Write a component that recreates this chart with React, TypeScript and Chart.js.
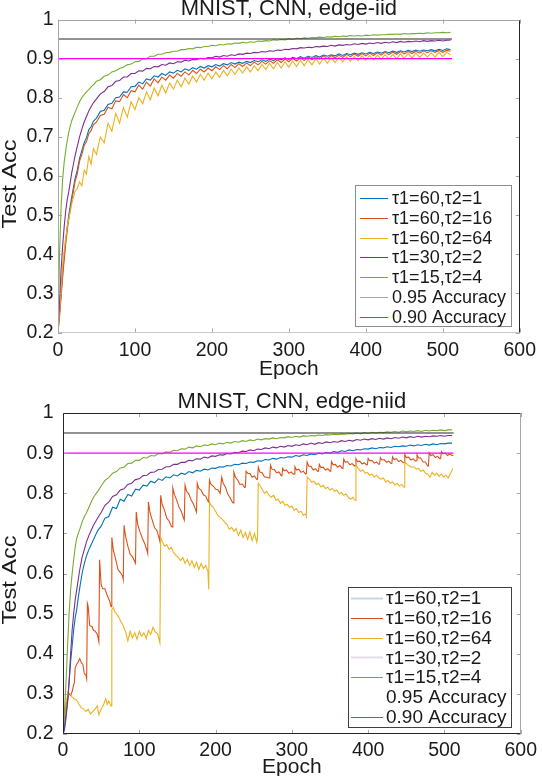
import { useEffect, useRef } from "react";
import { Chart, registerables } from "chart.js";

Chart.register(...registerables);

const FONT = "'Liberation Sans', Arial, Helvetica, sans-serif";
const TEXT = "#1a1a1a";

// ---------- axes ----------
const xTickValues = [0, 100, 200, 300, 400, 500, 600];
const yTickValues = [0.2, 0.3, 0.4, 0.5, 0.6, 0.7, 0.8, 0.9, 1];

// ---------- text ----------
const iidTitle = "MNIST, CNN, edge-iid";
const niidTitle = "MNIST, CNN, edge-niid";
const xLabel = "Epoch";
const yLabel = "Test Acc";
const seriesLabels = [
  "τ1=60,τ2=1",
  "τ1=60,τ2=16",
  "τ1=60,τ2=64",
  "τ1=30,τ2=2",
  "τ1=15,τ2=4",
  "0.95 Accuracy",
  "0.90 Accuracy",
];

// ---------- shared epoch grid for the smoother curves ----------
const smoothEpochs = [
  0, 2, 4, 6, 8, 10, 12, 14, 16, 18, 20, 22, 25, 28, 31, 34, 37, 40, 43, 46,
  50, 55, 60, 65, 70, 75, 80, 85, 90, 95,
  100, 105, 110, 115, 120, 125, 130, 135, 140, 145,
  150, 155, 160, 165, 170, 175, 180, 185, 190, 195,
  200, 205, 210, 215, 220, 225, 230, 235, 240, 245,
  250, 255, 260, 265, 270, 275, 280, 285, 290, 295,
  300, 305, 310, 315, 320, 325, 330, 335, 340, 345,
  350, 355, 360, 365, 370, 375, 380, 385, 390, 395,
  400, 405, 410, 415, 420, 425, 430, 435, 440, 445,
  450, 455, 460, 465, 470, 475, 480, 485, 490, 495,
  500, 505, 510,
];

// ---------- edge-iid panel ----------
const iidBlue = [
  0.2, 0.25, 0.3, 0.35, 0.395, 0.435, 0.47, 0.5, 0.525, 0.548, 0.57, 0.592, 0.615, 0.645, 0.665, 0.685, 0.698, 0.718, 0.726, 0.74,
  0.748, 0.765, 0.768, 0.783, 0.786, 0.8, 0.802, 0.815, 0.814, 0.828,
  0.829, 0.84, 0.836, 0.848, 0.845, 0.856, 0.853, 0.862, 0.857, 0.866,
  0.863, 0.87, 0.866, 0.874, 0.87, 0.877, 0.873, 0.88, 0.876, 0.882,
  0.879, 0.885, 0.881, 0.887, 0.884, 0.89, 0.886, 0.891, 0.888, 0.893,
  0.89, 0.895, 0.892, 0.897, 0.893, 0.899, 0.895, 0.9, 0.897, 0.902,
  0.898, 0.903, 0.9, 0.905, 0.901, 0.906, 0.903, 0.908, 0.904, 0.909,
  0.906, 0.91, 0.907, 0.912, 0.908, 0.913, 0.91, 0.914, 0.911, 0.915,
  0.912, 0.916, 0.913, 0.917, 0.914, 0.918, 0.915, 0.919, 0.916, 0.92,
  0.917, 0.921, 0.918, 0.922, 0.919, 0.922, 0.92, 0.923, 0.92, 0.924,
  0.921, 0.925, 0.923,
];
const iidOrange = [
  0.2, 0.24, 0.29, 0.34, 0.385, 0.425, 0.46, 0.49, 0.515, 0.54, 0.56, 0.585, 0.605, 0.638, 0.655, 0.678, 0.688, 0.708, 0.716, 0.731,
  0.738, 0.755, 0.758, 0.776, 0.772, 0.792, 0.79, 0.808, 0.8, 0.818,
  0.815, 0.832, 0.822, 0.84, 0.83, 0.848, 0.838, 0.853, 0.845, 0.858,
  0.85, 0.862, 0.855, 0.866, 0.858, 0.87, 0.862, 0.873, 0.866, 0.876,
  0.869, 0.879, 0.872, 0.882, 0.874, 0.885, 0.877, 0.887, 0.88, 0.889,
  0.882, 0.891, 0.884, 0.893, 0.886, 0.895, 0.888, 0.897, 0.89, 0.899,
  0.892, 0.901, 0.894, 0.902, 0.895, 0.904, 0.897, 0.905, 0.899, 0.907,
  0.9, 0.908, 0.902, 0.909, 0.903, 0.911, 0.905, 0.912, 0.906, 0.913,
  0.907, 0.914, 0.908, 0.915, 0.909, 0.916, 0.91, 0.917, 0.911, 0.918,
  0.912, 0.918, 0.913, 0.919, 0.914, 0.92, 0.915, 0.92, 0.916, 0.921,
  0.916, 0.921, 0.919,
];
const iidYellow = [
  0.2, 0.25, 0.31, 0.37, 0.41, 0.44, 0.47, 0.49, 0.51, 0.53, 0.545, 0.56, 0.568, 0.585, 0.575, 0.615, 0.605, 0.65, 0.63, 0.67,
  0.655, 0.7, 0.685, 0.735, 0.715, 0.76, 0.735, 0.775, 0.75, 0.79,
  0.77, 0.8, 0.785, 0.815, 0.795, 0.825, 0.805, 0.832, 0.812, 0.838,
  0.822, 0.845, 0.828, 0.85, 0.835, 0.855, 0.84, 0.86, 0.845, 0.863,
  0.848, 0.866, 0.852, 0.87, 0.856, 0.873, 0.86, 0.876, 0.863, 0.879,
  0.866, 0.882, 0.869, 0.885, 0.872, 0.888, 0.874, 0.89, 0.876, 0.892,
  0.878, 0.894, 0.88, 0.896, 0.882, 0.898, 0.884, 0.9, 0.886, 0.901,
  0.888, 0.903, 0.89, 0.904, 0.892, 0.905, 0.893, 0.906, 0.895, 0.907,
  0.896, 0.908, 0.897, 0.909, 0.898, 0.91, 0.899, 0.911, 0.9, 0.912,
  0.901, 0.913, 0.902, 0.914, 0.903, 0.914, 0.904, 0.915, 0.904, 0.916,
  0.905, 0.916, 0.91,
];
const iidPurple = [
  0.2, 0.28, 0.36, 0.42, 0.47, 0.51, 0.54, 0.56, 0.585, 0.61, 0.63, 0.65, 0.675, 0.7, 0.72, 0.738, 0.752, 0.766, 0.777, 0.787,
  0.797, 0.81, 0.816, 0.828, 0.831, 0.842, 0.844, 0.853, 0.853, 0.862,
  0.862, 0.869, 0.868, 0.875, 0.874, 0.88, 0.879, 0.885, 0.883, 0.889,
  0.887, 0.892, 0.891, 0.896, 0.894, 0.898, 0.897, 0.901, 0.899, 0.903,
  0.902, 0.906, 0.904, 0.908, 0.906, 0.91, 0.908, 0.912, 0.911, 0.914,
  0.913, 0.916, 0.915, 0.918, 0.917, 0.92, 0.919, 0.922, 0.921, 0.924,
  0.923, 0.926, 0.925, 0.928, 0.927, 0.929, 0.928, 0.931, 0.93, 0.932,
  0.931, 0.934, 0.932, 0.935, 0.934, 0.936, 0.935, 0.938, 0.936, 0.939,
  0.937, 0.94, 0.938, 0.941, 0.939, 0.942, 0.94, 0.943, 0.941, 0.944,
  0.942, 0.944, 0.943, 0.945, 0.943, 0.946, 0.944, 0.946, 0.945, 0.947,
  0.945, 0.947, 0.947,
];
const iidGreen = [
  0.2, 0.4, 0.52, 0.59, 0.635, 0.665, 0.69, 0.712, 0.728, 0.742, 0.752, 0.762, 0.776, 0.79, 0.8, 0.808, 0.815, 0.821, 0.828, 0.833,
  0.842, 0.846, 0.855, 0.858, 0.866, 0.869, 0.875, 0.878, 0.884, 0.886,
  0.892, 0.893, 0.899, 0.9, 0.906, 0.906, 0.911, 0.911, 0.915, 0.916,
  0.919, 0.919, 0.923, 0.923, 0.926, 0.925, 0.929, 0.928, 0.931, 0.931,
  0.934, 0.933, 0.936, 0.935, 0.938, 0.937, 0.94, 0.939, 0.942, 0.94,
  0.943, 0.942, 0.945, 0.944, 0.946, 0.945, 0.948, 0.947, 0.949, 0.948,
  0.951, 0.949, 0.952, 0.951, 0.953, 0.952, 0.954, 0.953, 0.955, 0.954,
  0.956, 0.955, 0.957, 0.956, 0.958, 0.957, 0.959, 0.958, 0.959, 0.958,
  0.96, 0.959, 0.961, 0.96, 0.961, 0.961, 0.962, 0.962, 0.963, 0.962,
  0.964, 0.963, 0.964, 0.964, 0.965, 0.964, 0.966, 0.965, 0.966, 0.966,
  0.967, 0.966, 0.967,
];

// ---------- edge-niid panel ----------
const niidBlue = [
  0.2, 0.21, 0.24, 0.28, 0.33, 0.38, 0.42, 0.46, 0.49, 0.51, 0.54, 0.565, 0.6, 0.625, 0.645, 0.66, 0.672, 0.685, 0.697, 0.708,
  0.718, 0.738, 0.742, 0.765, 0.762, 0.785, 0.78, 0.797, 0.793, 0.81,
  0.808, 0.82, 0.818, 0.83, 0.826, 0.836, 0.832, 0.841, 0.838, 0.846,
  0.843, 0.85, 0.847, 0.854, 0.851, 0.857, 0.855, 0.86, 0.858, 0.863,
  0.862, 0.866, 0.865, 0.869, 0.868, 0.872, 0.871, 0.875, 0.874, 0.878,
  0.877, 0.881, 0.88, 0.884, 0.883, 0.887, 0.885, 0.889, 0.888, 0.891,
  0.89, 0.894, 0.892, 0.896, 0.894, 0.898, 0.896, 0.9, 0.898, 0.902,
  0.9, 0.904, 0.902, 0.906, 0.904, 0.908, 0.906, 0.909, 0.908, 0.911,
  0.91, 0.913, 0.911, 0.914, 0.913, 0.916, 0.914, 0.917, 0.916, 0.918,
  0.917, 0.92, 0.918, 0.921, 0.919, 0.922, 0.92, 0.923, 0.921, 0.924,
  0.923, 0.925, 0.925,
];
const niidPurple = [
  0.2, 0.22, 0.25, 0.28, 0.33, 0.4, 0.46, 0.5, 0.535, 0.56, 0.585, 0.61, 0.64, 0.66, 0.68, 0.695, 0.708, 0.72, 0.73, 0.74,
  0.752, 0.77, 0.778, 0.792, 0.796, 0.808, 0.811, 0.822, 0.825, 0.834,
  0.836, 0.844, 0.845, 0.852, 0.853, 0.859, 0.86, 0.866, 0.866, 0.872,
  0.872, 0.877, 0.877, 0.882, 0.881, 0.886, 0.885, 0.89, 0.888, 0.893,
  0.892, 0.896, 0.895, 0.899, 0.898, 0.902, 0.901, 0.905, 0.904, 0.908,
  0.906, 0.91, 0.909, 0.913, 0.911, 0.915, 0.913, 0.917, 0.915, 0.919,
  0.917, 0.921, 0.919, 0.923, 0.921, 0.925, 0.922, 0.926, 0.924, 0.928,
  0.926, 0.929, 0.927, 0.931, 0.929, 0.932, 0.93, 0.934, 0.932, 0.935,
  0.933, 0.936, 0.934, 0.937, 0.935, 0.938, 0.936, 0.939, 0.937, 0.94,
  0.938, 0.941, 0.939, 0.942, 0.94, 0.942, 0.941, 0.943, 0.942, 0.944,
  0.942, 0.944, 0.944,
];
const niidGreen = [
  0.2, 0.26, 0.33, 0.42, 0.5, 0.56, 0.6, 0.635, 0.665, 0.688, 0.7, 0.71, 0.728, 0.742, 0.752, 0.765, 0.778, 0.79, 0.798, 0.806,
  0.818, 0.832, 0.839, 0.85, 0.854, 0.863, 0.865, 0.874, 0.875, 0.882,
  0.882, 0.889, 0.888, 0.894, 0.893, 0.899, 0.898, 0.903, 0.902, 0.907,
  0.906, 0.911, 0.91, 0.915, 0.913, 0.918, 0.916, 0.92, 0.919, 0.923,
  0.921, 0.925, 0.923, 0.927, 0.925, 0.929, 0.927, 0.931, 0.929, 0.933,
  0.931, 0.935, 0.933, 0.936, 0.935, 0.938, 0.936, 0.939, 0.938, 0.941,
  0.939, 0.942, 0.94, 0.943, 0.942, 0.944, 0.943, 0.945, 0.944, 0.946,
  0.945, 0.947, 0.946, 0.948, 0.947, 0.949, 0.948, 0.95, 0.948, 0.951,
  0.949, 0.952, 0.95, 0.952, 0.951, 0.953, 0.952, 0.954, 0.952, 0.955,
  0.953, 0.955, 0.954, 0.956, 0.954, 0.957, 0.955, 0.957, 0.956, 0.958,
  0.956, 0.958, 0.958,
];
// [epoch, accuracy] pairs (saw-tooth: cloud aggregation every 16 epochs)
const niidOrange = [
  [0, 0.2], [2, 0.245], [4, 0.272], [6, 0.29], [8, 0.3], [10, 0.296], [12, 0.306], [15, 0.33],
  [16, 0.365], [18, 0.374], [20, 0.38], [22, 0.388], [24, 0.378], [26, 0.374], [28, 0.35], [30, 0.347], [31, 0.338],
  [32, 0.525], [33, 0.518], [35, 0.47], [38, 0.468], [40, 0.458], [42, 0.457], [45, 0.448], [47, 0.43],
  [48, 0.634], [50, 0.572], [52, 0.562], [55, 0.562], [58, 0.545], [61, 0.532], [63, 0.517],
  [64, 0.69], [66, 0.658], [69, 0.636], [72, 0.61], [75, 0.603], [78, 0.594], [79, 0.585],
  [80, 0.72], [82, 0.693], [85, 0.668], [88, 0.648], [91, 0.642], [94, 0.63], [95, 0.626],
  [96, 0.753], [98, 0.722], [101, 0.703], [104, 0.688], [107, 0.675], [110, 0.658], [111, 0.65],
  [112, 0.778], [114, 0.752], [117, 0.733], [120, 0.714], [123, 0.708], [126, 0.688], [127, 0.68],
  [128, 0.795], [130, 0.772], [133, 0.758], [136, 0.738], [139, 0.731], [142, 0.718], [143, 0.716],
  [144, 0.813], [146, 0.797], [149, 0.783], [152, 0.766], [155, 0.755], [158, 0.738], [159, 0.733],
  [160, 0.82], [162, 0.805], [165, 0.798], [168, 0.783], [171, 0.773], [174, 0.758], [175, 0.753],
  [176, 0.825], [178, 0.812], [181, 0.808], [184, 0.796], [187, 0.793], [190, 0.78], [191, 0.778],
  [192, 0.833], [194, 0.822], [197, 0.818], [200, 0.81], [203, 0.809], [206, 0.8], [207, 0.8],
  [208, 0.84], [210, 0.825], [213, 0.815], [216, 0.798], [219, 0.789], [222, 0.778], [223, 0.776],
  [224, 0.853], [226, 0.84], [229, 0.833], [232, 0.822], [235, 0.823], [238, 0.814], [239, 0.815],
  [240, 0.855], [242, 0.85], [245, 0.849], [248, 0.84], [251, 0.843], [254, 0.834], [255, 0.835],
  [256, 0.865], [258, 0.853], [261, 0.851], [264, 0.841], [267, 0.84], [270, 0.838], [271, 0.838],
  [272, 0.87], [274, 0.86], [277, 0.859], [280, 0.851], [283, 0.853], [286, 0.844], [287, 0.845],
  [288, 0.862], [290, 0.856], [293, 0.858], [296, 0.85], [299, 0.853], [302, 0.847], [303, 0.848],
  [304, 0.866], [306, 0.858], [309, 0.86], [312, 0.852], [315, 0.855], [318, 0.848], [319, 0.849],
  [320, 0.878], [322, 0.868], [325, 0.867], [328, 0.858], [331, 0.861], [334, 0.854], [335, 0.855],
  [336, 0.872], [338, 0.864], [341, 0.865], [344, 0.858], [347, 0.861], [350, 0.855], [351, 0.856],
  [352, 0.879], [354, 0.871], [357, 0.872], [360, 0.865], [363, 0.869], [366, 0.862], [367, 0.863],
  [368, 0.885], [370, 0.877], [373, 0.879], [376, 0.871], [379, 0.874], [382, 0.868], [383, 0.869],
  [384, 0.886], [386, 0.879], [389, 0.88], [392, 0.873], [395, 0.876], [398, 0.87], [399, 0.871],
  [400, 0.887], [402, 0.881], [405, 0.882], [408, 0.875], [411, 0.878], [414, 0.872], [415, 0.873],
  [416, 0.889], [418, 0.883], [421, 0.884], [424, 0.877], [427, 0.88], [430, 0.874], [431, 0.875],
  [432, 0.891], [434, 0.884], [437, 0.886], [440, 0.879], [443, 0.882], [446, 0.876], [447, 0.877],
  [448, 0.897], [450, 0.889], [453, 0.89], [456, 0.883], [459, 0.886], [462, 0.88], [463, 0.881],
  [464, 0.896], [466, 0.888], [469, 0.888], [472, 0.878], [475, 0.878], [478, 0.868], [479, 0.868],
  [480, 0.901], [482, 0.894], [485, 0.896], [488, 0.889], [491, 0.892], [494, 0.886], [495, 0.887],
  [496, 0.904], [498, 0.898], [501, 0.9], [504, 0.894], [507, 0.898], [510, 0.894], [511, 0.895],
];
// [epoch, accuracy] pairs (cloud aggregation every 64 epochs)
const niidYellow = [
  [0, 0.2], [2, 0.25], [4, 0.28], [6, 0.295], [8, 0.302], [10, 0.298], [12, 0.292], [15, 0.288], [18, 0.284], [21, 0.274], [24, 0.265], [27, 0.262], [30, 0.256], [33, 0.262], [36, 0.25], [39, 0.256], [42, 0.262], [45, 0.27], [47, 0.248], [50, 0.262], [53, 0.272], [56, 0.288], [58, 0.274], [60, 0.282], [63, 0.27],
  [64, 0.51], [66, 0.515], [68, 0.504], [70, 0.5], [73, 0.492], [76, 0.48], [79, 0.47], [82, 0.455], [85, 0.432], [88, 0.456], [91, 0.44], [94, 0.452], [97, 0.436], [100, 0.456], [103, 0.444], [106, 0.452], [109, 0.438], [112, 0.458], [115, 0.448], [118, 0.466], [121, 0.454], [124, 0.45], [127, 0.427],
  [128, 0.69], [130, 0.68], [133, 0.668], [136, 0.672], [139, 0.66], [142, 0.665], [145, 0.652], [148, 0.645], [151, 0.64], [154, 0.632], [157, 0.64], [160, 0.625], [163, 0.635], [166, 0.62], [169, 0.632], [172, 0.615], [175, 0.628], [178, 0.61], [181, 0.625], [184, 0.612], [187, 0.62], [190, 0.605], [191, 0.56],
  [192, 0.778], [194, 0.77], [197, 0.765], [200, 0.755], [203, 0.745], [206, 0.74], [209, 0.735], [212, 0.728], [215, 0.722], [218, 0.71], [221, 0.715], [224, 0.705], [227, 0.712], [230, 0.695], [233, 0.708], [236, 0.69], [239, 0.702], [242, 0.685], [245, 0.704], [248, 0.682], [251, 0.7], [254, 0.678], [255, 0.69],
  [256, 0.825], [258, 0.82], [261, 0.81], [264, 0.8], [267, 0.805], [270, 0.795], [273, 0.79], [276, 0.795], [279, 0.783], [282, 0.785], [285, 0.775], [288, 0.78], [291, 0.77], [294, 0.772], [297, 0.765], [300, 0.768], [303, 0.758], [306, 0.762], [309, 0.752], [312, 0.755], [315, 0.745], [318, 0.748], [319, 0.742],
  [320, 0.84], [323, 0.835], [326, 0.828], [329, 0.83], [332, 0.822], [335, 0.825], [338, 0.816], [341, 0.82], [344, 0.812], [347, 0.815], [350, 0.808], [353, 0.812], [356, 0.805], [359, 0.808], [362, 0.798], [365, 0.802], [368, 0.795], [371, 0.798], [374, 0.79], [377, 0.785], [380, 0.79], [383, 0.782],
  [384, 0.87], [387, 0.862], [390, 0.855], [393, 0.858], [396, 0.85], [399, 0.852], [402, 0.845], [405, 0.848], [408, 0.84], [411, 0.845], [414, 0.838], [417, 0.835], [420, 0.838], [423, 0.828], [426, 0.832], [429, 0.825], [432, 0.828], [435, 0.82], [438, 0.825], [441, 0.818], [444, 0.822], [447, 0.815],
  [448, 0.878], [451, 0.872], [454, 0.868], [457, 0.865], [460, 0.866], [463, 0.86], [466, 0.862], [469, 0.855], [472, 0.858], [475, 0.85], [478, 0.848], [481, 0.84], [484, 0.852], [487, 0.845], [490, 0.85], [493, 0.842], [496, 0.848], [499, 0.84], [502, 0.845], [505, 0.838], [508, 0.85], [511, 0.862],
];

// ---------- reference accuracy lines ----------
const refEpochs = [0, 512];
const acc95 = [0.95, 0.95];
const acc90 = [0.9, 0.9];

// ---------- colours ----------
const lineColors = ["#0072BD", "#D95319", "#EDB120", "#7E2F8E", "#77AC30", "#262626", "#FF00FF"];
const iidLegendColors = ["#0072BD", "#D95319", "#EDB120", "#7E2F8E", "#77AC30", "#a6a6a6", "#FF00FF"];
const niidLegendColors = ["#c4d8ec", "#D95319", "#EDB120", "#e2dde8", "#77AC30", "", "#FF00FF"];
const iidLegendWidths = [1, 1, 1, 1, 1, 1, 1];
const niidLegendWidths = [2, 1, 1, 2, 1, 1, 1];

const onGrid = (vals: number[]) => smoothEpochs.map((e, k) => ({ x: e, y: vals[k] }));
const fromPairs = (pairs: number[][]) => pairs.map((p) => ({ x: p[0], y: p[1] }));
const refLine = (vals: number[]) => refEpochs.map((e, k) => ({ x: e, y: vals[k] }));

// ---------- plugins ----------
const titlePlugin = {
  id: "panelTitle",
  afterDraw(chart: any, _a: any, o: any) {
    const { ctx, chartArea } = chart;
    ctx.save();
    ctx.font = `${o.size}px ${FONT}`;
    ctx.fillStyle = TEXT;
    ctx.textAlign = "center";
    ctx.textBaseline = "alphabetic";
    ctx.fillText(o.text, (chartArea.left + chartArea.right) / 2, chartArea.top - o.gap);
    // rotated y-axis label
    ctx.save();
    ctx.translate(o.yLabelBaselineX, (chartArea.top + chartArea.bottom) / 2 + o.yLabelShift);
    ctx.rotate(-Math.PI / 2);
    ctx.scale(o.yLabelStretch, 1);
    ctx.font = `${o.yLabelSize}px ${FONT}`;
    ctx.fillText(o.yLabel, 0, 0);
    ctx.restore();
    ctx.restore();
  },
};

const framePlugin = {
  id: "matlabFrame",
  afterDatasetsDraw(chart: any, _a: any, o: any) {
    const { ctx, chartArea } = chart;
    const { left, right, top, bottom } = chartArea;
    const xs = chart.scales.x;
    const ys = chart.scales.y;
    ctx.save();
    ctx.lineWidth = 1;
    ctx.strokeStyle = o.tickColor;
    ctx.beginPath();
    for (const t of xs.ticks) {
      const px = Math.round(xs.getPixelForValue(t.value)) + 0.5;
      ctx.moveTo(px, bottom);
      ctx.lineTo(px, bottom - o.tickLen);
      ctx.moveTo(px, top);
      ctx.lineTo(px, top + o.tickLen);
    }
    for (const t of ys.ticks) {
      const py = Math.round(ys.getPixelForValue(t.value)) + 0.5;
      ctx.moveTo(left, py);
      ctx.lineTo(left + o.tickLen, py);
      ctx.moveTo(right, py);
      ctx.lineTo(right - o.tickLen, py);
    }
    ctx.stroke();
    const L = Math.round(left) + 0.5;
    const R = Math.round(right) - 0.5;
    const T = Math.round(top) + 0.5;
    const B = Math.round(bottom) - 0.5;
    const side = (c: string, x1: number, y1: number, x2: number, y2: number) => {
      ctx.strokeStyle = c;
      ctx.beginPath();
      ctx.moveTo(x1, y1);
      ctx.lineTo(x2, y2);
      ctx.stroke();
    };
    side(o.topColor, L, T, R, T);
    side(o.bottomColor, L, B, R, B);
    side(o.leftColor, L, T, L, B);
    side(o.rightColor, R, T, R, B);
    ctx.restore();
  },
};

const legendPlugin = {
  id: "boxLegend",
  afterDraw(chart: any, _a: any, o: any) {
    const { ctx, chartArea } = chart;
    const x0 = Math.round(chartArea.right - o.rightGap - o.width);
    const y0 = Math.round(chartArea.bottom - o.bottomGap - o.height);
    ctx.save();
    ctx.fillStyle = "#ffffff";
    ctx.fillRect(x0, y0, o.width, o.height);
    ctx.lineWidth = 1;
    ctx.strokeStyle = o.borderColor;
    ctx.strokeRect(x0 + 0.5, y0 + 0.5, o.width, o.height);
    ctx.font = `${o.fontSize}px ${FONT}`;
    ctx.textAlign = "left";
    ctx.textBaseline = "middle";
    const raw = chart.config.data.datasets;
    for (let i = 0; i < raw.length; i++) {
      const ds = raw[i];
      const cy = y0 + o.firstRow + i * o.rowStep;
      const col = ds.legendColor;
      if (col) {
        ctx.strokeStyle = col;
        ctx.lineWidth = ds.legendWidth || 1;
        ctx.beginPath();
        ctx.moveTo(x0 + o.sampleStart, Math.round(cy) + 0.5);
        ctx.lineTo(x0 + o.sampleEnd, Math.round(cy) + 0.5);
        ctx.stroke();
      }
      ctx.fillStyle = TEXT;
      ctx.fillText(String(ds.label), x0 + o.textStart, cy + 1);
    }
    ctx.restore();
  },
};

function buildConfig(p: any) {
  const n = p.series.length;
  const datasets = p.series.map((data: any, i: number) => ({
    label: seriesLabels[i],
    data,
    legendColor: p.legendColors[i],
    legendWidth: p.legendWidths[i],
    borderColor: lineColors[i],
    backgroundColor: lineColors[i],
    borderWidth: 1.1,
    pointRadius: 0,
    pointHoverRadius: 0,
    fill: false,
    tension: 0,
    order: n - i,
  }));
  const tickFont = { family: FONT, size: 19.5, lineHeight: 1.2 };
  const labelFont = { family: FONT, size: 21, lineHeight: 1 };
  return {
    type: "line",
    data: { datasets },
    options: {
      responsive: false,
      animation: false,
      events: [],
      layout: { padding: { left: 0, top: p.padTop, right: p.padRight, bottom: 0 } },
      plugins: {
        legend: { display: false },
        tooltip: { enabled: false },
        title: { display: false },
        colors: { enabled: false },
        panelTitle: {
          text: p.title,
          size: 22,
          gap: 5,
          yLabel: yLabel,
          yLabelSize: 21,
          yLabelStretch: 1.12,
          yLabelBaselineX: 15.5,
          yLabelShift: p.yLabelShift,
        },
        matlabFrame: p.frame,
        boxLegend: p.legend,
      },
      scales: {
        x: {
          type: "linear",
          min: 0,
          max: 600,
          afterBuildTicks: (s: any) => {
            s.ticks = xTickValues.map((v) => ({ value: v }));
          },
          afterFit: (s: any) => {
            s.height = p.xAxisHeight;
          },
          grid: { display: false, drawTicks: false },
          border: { display: false },
          ticks: {
            font: tickFont,
            color: TEXT,
            padding: p.xTickPad,
            maxRotation: 0,
            autoSkip: false,
            callback: (v: any) => String(v),
          },
          title: {
            display: true,
            text: xLabel,
            color: TEXT,
            font: labelFont,
            padding: { top: 0, bottom: p.xTitlePad },
          },
        },
        y: {
          type: "linear",
          min: 0.2,
          max: 1,
          afterBuildTicks: (s: any) => {
            s.ticks = yTickValues.map((v) => ({ value: v }));
          },
          afterFit: (s: any) => {
            s.width = p.yAxisWidth;
          },
          grid: { display: false, drawTicks: false },
          border: { display: false },
          ticks: {
            font: tickFont,
            color: TEXT,
            padding: p.yTickPad,
            autoSkip: false,
            callback: (v: any) => {
              const num = Number(v);
              return Math.abs(num - 1) < 1e-9 ? "1" : num.toFixed(1);
            },
          },
          title: { display: false },
        },
      },
    },
    plugins: [titlePlugin, framePlugin, legendPlugin],
  };
}

const iidPanel = {
  title: iidTitle,
  series: [
    onGrid(iidBlue),
    onGrid(iidOrange),
    onGrid(iidYellow),
    onGrid(iidPurple),
    onGrid(iidGreen),
    refLine(acc95),
    refLine(acc90),
  ],
  legendColors: iidLegendColors,
  legendWidths: iidLegendWidths,
  padTop: 19.5,
  padRight: 15.5,
  xAxisHeight: 55.5,
  yAxisWidth: 58,
  xTickPad: 6,
  yTickPad: 4.5,
  xTitlePad: 8,
  yLabelShift: 8,
  frame: {
    tickColor: "#a6a6a6",
    tickLen: 4,
    topColor: "#a6a6a6",
    bottomColor: "#c8c8c8",
    leftColor: "#a6a6a6",
    rightColor: "#262626",
  },
  legend: {
    width: 156,
    height: 141,
    rightGap: 8.5,
    bottomGap: 6.5,
    firstRow: 13,
    rowStep: 19.8,
    sampleStart: 5,
    sampleEnd: 33,
    textStart: 37,
    fontSize: 18,
    borderColor: "#8c8c8c",
  },
};

const niidPanel = {
  title: niidTitle,
  series: [
    onGrid(niidBlue),
    fromPairs(niidOrange),
    fromPairs(niidYellow),
    onGrid(niidPurple),
    onGrid(niidGreen),
    refLine(acc95),
    refLine(acc90),
  ],
  legendColors: niidLegendColors,
  legendWidths: niidLegendWidths,
  padTop: 25,
  padRight: 17,
  xAxisHeight: 42,
  yAxisWidth: 63,
  xTickPad: 5,
  yTickPad: 9.5,
  xTitlePad: -2,
  yLabelShift: 6.5,
  frame: {
    tickColor: "#a6a6a6",
    tickLen: 4,
    topColor: "#262626",
    bottomColor: "#262626",
    leftColor: "#262626",
    rightColor: "#a6a6a6",
  },
  legend: {
    width: 163,
    height: 140,
    rightGap: 10,
    bottomGap: 7,
    firstRow: 11,
    rowStep: 19.8,
    sampleStart: 3,
    sampleEnd: 35,
    textStart: 38,
    fontSize: 19,
    borderColor: "#404040",
  },
};

function Panel({ spec }: { spec: any }) {
  const ref = useRef<HTMLCanvasElement>(null);
  useEffect(() => {
    const chart = new Chart(ref.current as HTMLCanvasElement, buildConfig(spec) as any);
    return () => chart.destroy();
  }, [spec]);
  return (
    <canvas
      ref={ref}
      width={542}
      height={388}
      style={{ display: "block", width: 542, height: 388 }}
    />
  );
}

export default function App() {
  return (
    <div
      style={{
        position: "absolute",
        left: 0,
        top: 0,
        width: 542,
        height: 776,
        background: "#ffffff",
        overflow: "hidden",
      }}
    >
      <Panel spec={iidPanel} />
      <Panel spec={niidPanel} />
    </div>
  );
}
